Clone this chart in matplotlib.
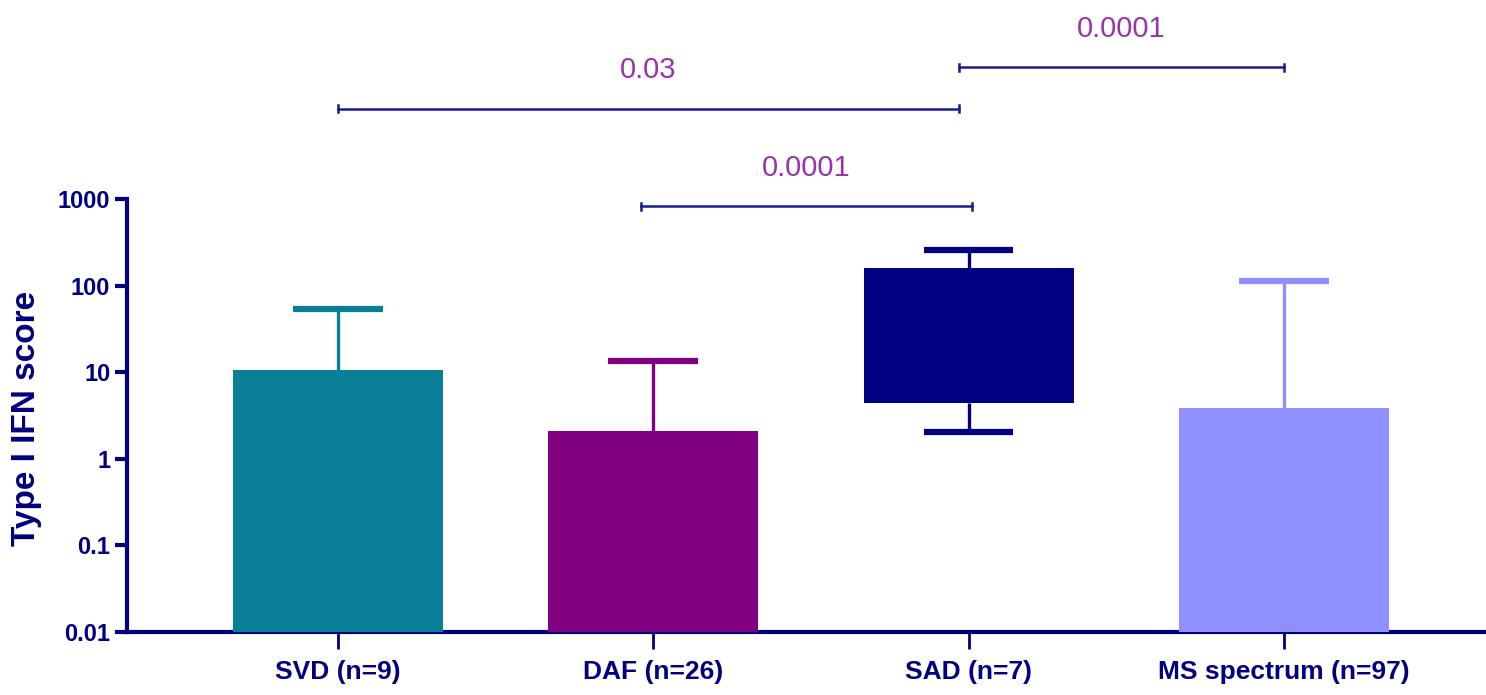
import numpy as np
import matplotlib.pyplot as plt

plt.rcParams['font.family'] = ['Liberation Sans', 'DejaVu Sans']

# Group medians / ranges of the type I IFN score
groups = ['SVD (n=9)', 'DAF (n=26)', 'SAD (n=7)', 'MS spectrum (n=97)']
bar_low = [0.01, 0.01, 4.4, 0.01]
bar_high = [10.5, 2.1, 160, 3.9]
whisker_low = [10.5, 2.1, 2.05, 3.9]
whisker_high = [54, 13.5, 255, 112]
colors = ['#087e97', '#800080', '#000080', '#8f8fff']

# Pairwise comparisons: (group a, group b, p-value, bracket height)
comparisons = [
    (0, 1.97, '0.03', 1.1e4),
    (1.97, 3.0, '0.0001', 3.3e4),
    (0.96, 2.01, '0.0001', 820),
]

navy = '#000080'
ptext = '#9933aa'
cap_w = 0.142

fig = plt.figure(figsize=(14.86, 6.95), dpi=100)
ax = fig.add_axes([127 / 1486, 63 / 695, 1 - 127 / 1486, 632 / 695])

x = np.arange(len(groups))

for i in x:
    lo, hi = bar_low[i], bar_high[i]
    ax.bar(i, hi - lo, bottom=lo, width=0.666, color=colors[i], zorder=3)
    # whiskers drawn by hand so only the outer caps show
    ax.vlines(i, hi, whisker_high[i], color=colors[i], lw=2.4, zorder=2)
    ax.hlines(whisker_high[i], i - cap_w, i + cap_w, color=colors[i], lw=4.5, zorder=2)
    if whisker_low[i] < lo:
        ax.vlines(i, whisker_low[i], lo, color=colors[i], lw=2.4, zorder=2)
        ax.hlines(whisker_low[i], i - cap_w, i + cap_w, color=colors[i], lw=4.5, zorder=2)

ax.set_yscale('log')
ax.set_ylim(0.01, 10 ** (632 / 86.6 - 2))
ax.set_xlim(-0.669, 3.641)
ax.set_yticks([0.01, 0.1, 1, 10, 100, 1000])
ax.set_yticklabels(['0.01', '0.1', '1', '10', '100', '1000'])
ax.minorticks_off()
ax.set_xticks(x)
ax.set_xticklabels(groups)

for s in ['top', 'right']:
    ax.spines[s].set_visible(False)
ax.spines['left'].set_bounds(0.01, 1000)
for s in ['left', 'bottom']:
    ax.spines[s].set_color(navy)
    ax.spines[s].set_linewidth(3)
ax.tick_params(axis='y', colors=navy, length=9, width=3, pad=3,
               labelsize=17)
ax.tick_params(axis='x', colors=navy, length=12, width=2, pad=8,
               labelsize=19)
for lab in ax.get_xticklabels() + ax.get_yticklabels():
    lab.set_fontweight('bold')

ax.set_ylabel('Type I IFN score', fontsize=24, fontweight='bold', color=navy)
ax.yaxis.set_label_coords(-85 / 1359, (632 - 418) / 632)

for xa, xb, p, yb in comparisons:
    ax.plot([xa, xb], [yb, yb], color='#1a1a8c', lw=1.8, clip_on=False, zorder=4)
    for xe in (xa, xb):
        ax.plot([xe, xe], [yb / 1.1, yb * 1.1], color='#1a1a8c', lw=1.8,
                clip_on=False, zorder=4)
    ax.annotate(p, xy=((xa + xb) / 2, yb), xytext=(0, 28),
                textcoords='offset points', ha='center', va='center',
                fontsize=21, color=ptext, annotation_clip=False)

fig.savefig('out.png', dpi=100)
